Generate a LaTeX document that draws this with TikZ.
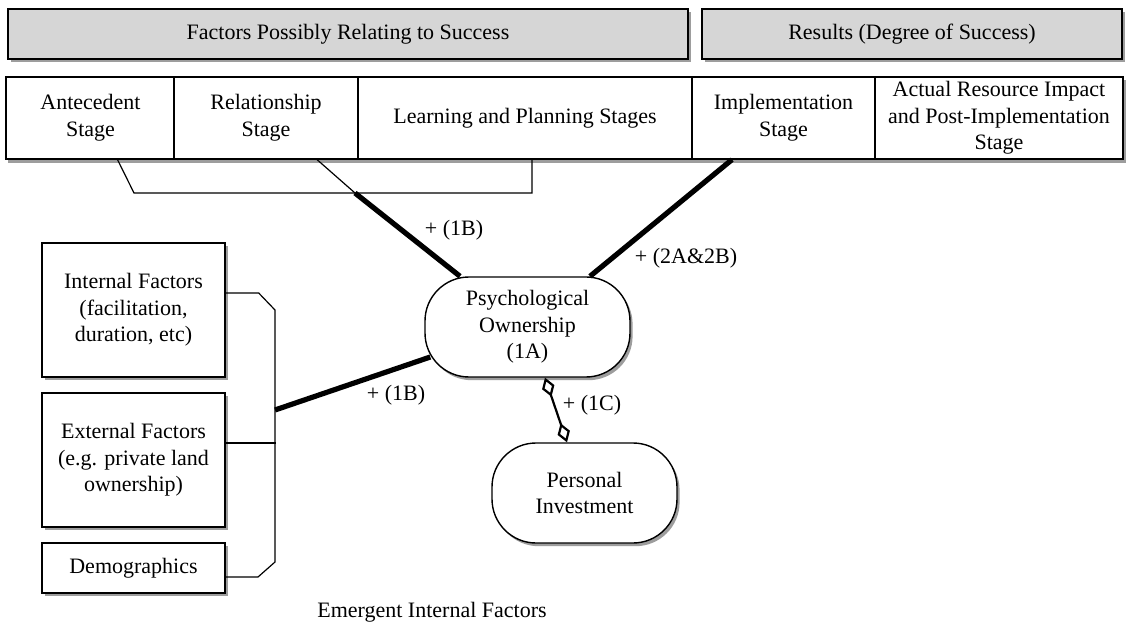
\documentclass[tikz,border=0pt]{standalone}
\usepackage{fontspec}
\setmainfont{Liberation Serif}
\usetikzlibrary{arrows.meta, positioning, fit, backgrounds, shadows}
\definecolor{headgray}{HTML}{D6D6D6}
\tikzset{
  boxshadow/.style = {drop shadow={shadow xshift=1.3pt, shadow yshift=-1.6pt, opacity=0.55, fill=black!70}},
  header/.style = {rectangle, draw=black, line width=0.7pt, fill=headgray, align=center, minimum height=25pt, inner sep=2pt, boxshadow},
  stage/.style = {rectangle, draw=black, line width=0.6pt, fill=white, align=center, minimum height=41pt, inner sep=1pt},
  factor/.style = {rectangle, draw=black, line width=0.7pt, fill=white, align=center, minimum width=91.5pt, inner sep=2pt, boxshadow},
  outcome/.style = {rectangle, rounded corners=22pt, draw=black, line width=0.7pt, fill=white, align=center, minimum height=50pt, inner sep=2pt, boxshadow},
  link/.style = {line width=0.6pt},
  strong/.style = {line width=2.6pt},
  assoc/.style = {{Diamond[open,length=10pt,width=6.5pt]}-{Diamond[open,length=10pt,width=6.5pt]}, line width=1.1pt},
  tag/.style = {inner sep=1pt}
}

\begin{document}
\begin{tikzpicture}[x=0.5pt, y=-0.5pt, every node/.style={font=\fontsize{11}{13.3}\selectfont}]
\useasboundingbox (0,0) rectangle (1128,625);

% Header bars
\node[header, minimum width=340pt] (factors) at (348,34) {Factors Possibly Relating to Success};
\node[header, minimum width=210pt] (results) at (912,34) {Results (Degree of Success)};

% Stage row
\node[stage, minimum width=84.5pt] (antecedent) at (90.5,118) {Antecedent\\Stage};
\node[stage, minimum width=92pt] (relationship) at (266,118) {Relationship\\Stage};
\node[stage, minimum width=167pt] (learning) at (525,118) {Learning and Planning Stages};
\node[stage, minimum width=91.5pt] (implementation) at (783.5,118) {Implementation\\Stage};
\node[stage, minimum width=124pt] (actual) at (999,118) {Actual Resource Impact\\and Post-Implementation\\Stage};
\begin{scope}[on background layer]
  \node[rectangle, inner sep=0pt, fill=white, boxshadow, fit=(antecedent)(actual)] (stagerow) {};
\end{scope}

% Left factor boxes
\node[factor, minimum height=67pt] (internal) at (133.5,310) {Internal Factors\\(facilitation,\\duration, etc)};
\node[factor, minimum height=67pt] (external) at (133.5,460) {External Factors\\(e.g. private land\\ownership)};
\node[factor, minimum height=25pt] (demographics) at (133.5,568) {Demographics};

% Outcomes
\node[outcome, minimum width=102.5pt] (psych) at (527.5,327) {Psychological\\Ownership\\(1A)};
\node[outcome, minimum width=92.5pt] (invest) at (584.5,493) {Personal\\Investment};

% Bracket under the early stages
\coordinate (brkL) at (134,193);
\coordinate (brkJ) at (355,193);
\coordinate (brkR) at (532,193);
\draw[link] ([xshift=13.5pt]antecedent.south) -- (brkL) -- (brkR) -- ([xshift=3.5pt]learning.south);
\draw[link] ([xshift=25.5pt]relationship.south) -- (brkJ);
\draw[strong] (brkJ) -- ([xshift=-33.75pt]psych.north);
\draw[strong] ([xshift=-25.75pt]implementation.south) -- ([xshift=31.25pt]psych.north);

% Bracket beside the factor boxes
\coordinate (jn) at (275,410);
\draw[link] ([yshift=8.5pt]internal.east) -- ++(16.5pt,0) -- (275,310) -- (275,562) -- (258,577) -- ([yshift=-4.5pt]demographics.east);
\draw[link] ([yshift=8.5pt]external.east) -- ++(25pt,0);
\draw[strong] (jn) -- ([xshift=3pt,yshift=-15pt]psych.west);

% Association
\draw[assoc] ([xshift=8.75pt]psych.south) -- ([xshift=-8.75pt]invest.north);

% Labels
\node[tag] (l1b) at (454,230) {+ (1B)};
\node[tag] (l2ab) at (686,258) {+ (2A\&2B)};
\node[tag] (l1bb) at (396,395) {+ (1B)};
\node[tag] (l1c) at (592,405) {+ (1C)};
\node[tag] (emergent) at (432,612) {Emergent Internal Factors};

\end{tikzpicture}
\end{document}
